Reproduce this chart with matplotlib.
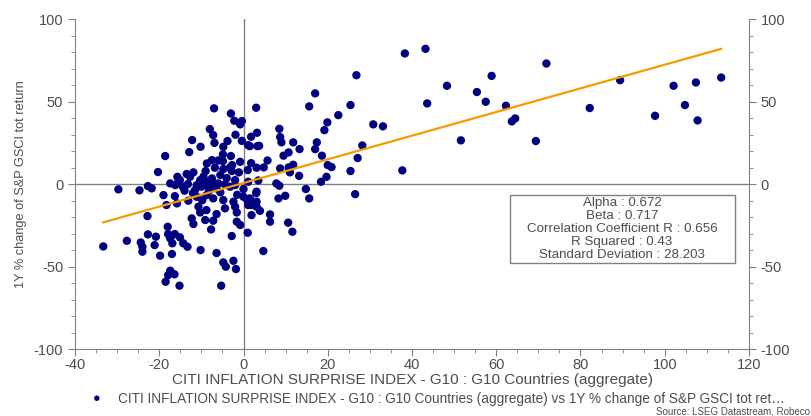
import matplotlib
matplotlib.use("Agg")
import matplotlib.pyplot as plt
from matplotlib.ticker import MultipleLocator
from matplotlib.patches import Rectangle

plt.rcParams['font.family'] = ['Liberation Sans', 'DejaVu Sans']
plt.rcParams['axes.unicode_minus'] = False

# Citi inflation surprise index (x) vs 1Y % change of S&P GSCI total return (y)
surprise = [
    38.3, 43.2, 71.9, 26.8, 58.9, 48.3, 89.4, 102.1, 107.4, 113.4, 55.4, 57.5, 43.6, 62.3,
    17.0, 15.6, 25.4, 3.0, 82.2, 104.8, 97.7, 107.8, 64.5, 63.7, 22.5, 19.9, 19.2, 30.8,
    33.1, 8.5, 51.6, 69.4, 28.2, 27.1, 37.7, 25.4, 26.5, 17.4, 17.0, 11.8, 13.3, 10.7,
    9.5, 18.6, 5.7, 4.8, 8.7, 9.0, 20.0, 20.9, 11.8, 10.7, 8.7, 13.2, 19.7, 18.4,
    14.8, 7.8, 8.5, 3.0, 9.9, 15.6, 8.3, 3.5, 1.8, 3.2, 1.8, 3.3, 1.5, 11.0,
    10.6, 11.6, 3.1, 1.1, 3.7,
    -7.0, -3.0, -2.2, -0.4, -0.8, -8.0, -7.2, -1.9, -12.2, -6.9, -3.8, -4.8, -0.4, -10.2,
    -12.9, -18.6, -4.9, -7.5, -2.7, -0.8, -4.9, -20.3, -15.7, -11.9, -13.5, -9.0, -6.8, -4.8,
    -3.2, -1.1, 1.0, -4.0, -2.0, -29.7, -24.7, -22.7, -21.8, -15.4, -17.4, -16.2, -14.4, -13.2,
    -10.3, -9.5, -8.8, -10.0, -8.4, -7.2, -6.0, -6.4, -8.2, -11.1, -11.5, -7.5, -4.4, -3.2,
    -2.0, 0.0, 1.1, 3.1,
    -19.0, -18.3, -16.3, -15.8, -13.1, -11.1, -8.8, -7.2, -4.8, -2.4, 1.5, 3.1,
    -10.7, -10.3, -8.8, -6.4, -4.4, -2.0, -1.6, 1.1, 3.1, 3.9, 1.9,
    -22.8, -12.3, -11.9, -9.1, -7.2, -7.7, -1.6, -0.8, 1.0, -2.8, -18.0,
    -22.7, -20.8, -24.4, -24.0, -24.0, -27.7, -21.1, -33.3,
    -17.9, -16.3, -17.4, -15.1, -16.9, -14.3, -13.3, -17.0, -19.8,
    -10.2, -6.4, 4.7, -4.8, -4.2, -2.4, -1.8,
    -17.4, -17.9, -16.4, -18.5, -15.2, -5.3,
    0.0, 0.9, 1.9, 6.3, 6.3,
    -6.0, -3.0, -8.7, -2.8, -12.7, -15.1,
    -9.5, -5.5, -12.0, -5.5, -1.5, -14.0, -9.8,
]
gsci_return = [
    79.2, 82.0, 73.1, 66.0, 65.6, 59.6, 63.0, 59.6, 61.6, 64.6, 55.8, 49.9, 48.9, 47.5,
    55.0, 47.1, 47.9, 46.3, 46.1, 47.9, 41.4, 38.6, 39.8, 38.0, 41.8, 37.4, 32.7, 36.2,
    35.0, 33.5, 26.5, 26.1, 23.4, 15.8, 8.3, 7.9, -6.1, 25.3, 21.2, 25.3, 21.2, 19.2,
    17.2, 17.2, 14.3, 10.1, 28.5, 25.3, 11.5, 10.3, 11.7, 10.1, 9.5, 5.0, 4.4, 1.4,
    -3.0, 0.4, -1.0, -5.5, -7.1, -8.7, -8.7, 2.2, 12.7, 31.1, 28.7, 23.0, 23.0, 7.1,
    -23.4, -28.9, 9.9, 23.6, 23.2,
    45.9, 42.8, 38.4, 38.2, 36.2, 33.3, 29.7, 29.9, 26.7, 25.0, 26.1, 22.6, 26.2, 22.6,
    19.4, 17.0, 18.0, 14.5, 11.5, 13.5, 13.9, 7.3, 4.4, 7.1, 6.1, 7.9, 9.9, 9.1,
    10.1, 7.1, 8.5, 3.6, 2.4, -3.2, -3.8, -1.2, -2.6, 1.8, 0.4, -0.6, -1.6, 0.0,
    2.4, 0.4, 1.4, -1.6, -1.6, -0.6, 0.4, -2.6, -4.2, -0.6, -3.6, 3.4, -0.2, -1.6,
    -0.6, -3.0, 1.4, -4.6,
    -6.7, -12.7, -7.3, -11.7, -10.1, -7.7, -6.7, -8.7, -9.7, -10.7, -8.7, -10.7,
    -13.7, -17.2, -15.8, -18.2, -14.7, -13.7, -17.2, -12.7, -13.7, -16.2, -18.8,
    -19.4, -20.8, -24.2, -21.8, -22.2, -27.5, -22.8, -24.8, -29.5, -31.5, -25.9,
    -30.5, -31.9, -35.4, -38.0, -41.0, -34.4, -37.0, -37.8,
    -30.3, -30.3, -32.9, -32.3, -35.9, -35.9, -38.0, -42.4, -43.4,
    -40.0, -41.8, -40.6, -47.5, -50.1, -46.5, -51.5,
    -52.5, -55.2, -54.7, -59.2, -61.6, -61.6,
    -7.7, -9.7, -12.7, -18.4, -22.8,
    14.3, 17.0, 12.5, 7.9, 4.4, 2.4,
    4.5, 5.5, -5.5, -5.0, -6.5, -4.0, -9.8,
]

alpha = 0.672
beta = 0.717
stats_lines = [
    "Alpha : 0.672",
    "Beta : 0.717",
    "Correlation Coefficient R : 0.656",
    "R Squared : 0.43",
    "Standard Deviation : 28.203",
]
x_ticks = [-40, -20, 0, 20, 40, 60, 80, 100, 120]
y_ticks = [-100, -50, 0, 50, 100]

fig = plt.figure(figsize=(8.12, 4.16), dpi=100)
ax = fig.add_axes([0.0924, 0.161, 0.830, 0.793])

gray = '#808080'
text_col = '#4d4d4d'

ax.axhline(0, color=gray, lw=1, zorder=1)
ax.axvline(0, color=gray, lw=1, zorder=1)

ax.scatter(surprise, gsci_return, s=36, color='#000080', edgecolors='none', zorder=3)

x_min, x_max = min(surprise), max(surprise)
ax.plot([x_min, x_max], [alpha + beta * x_min, alpha + beta * x_max],
        color='#f59a00', lw=1.6, zorder=4)

ax.set_xlim(-40, 120)
ax.set_ylim(-100, 100)
ax.set_xticks(x_ticks)
ax.set_yticks(y_ticks)
ax.xaxis.set_minor_locator(MultipleLocator(5))
ax.yaxis.set_minor_locator(MultipleLocator(10))
ax.yaxis.set_ticks_position('both')
ax.tick_params(axis='both', which='both', direction='out', colors=gray,
               labelcolor=text_col, labelsize=10.5, labelright=True)
ax.tick_params(which='major', length=5)
ax.tick_params(which='minor', length=3)
ax.tick_params(axis='x', pad=1.5)

ax.spines['top'].set_visible(False)
for side in ['left', 'right', 'bottom']:
    ax.spines[side].set_color(gray)

ax.set_xlabel("CITI INFLATION SURPRISE INDEX - G10 : G10 Countries (aggregate)",
              fontsize=11, color=text_col, labelpad=0.5)
ax.set_ylabel("1Y % change of S&P GSCI tot return", fontsize=9.2, color=text_col, labelpad=5,
              family=['Liberation Sans Narrow', 'Liberation Sans', 'DejaVu Sans'])

# statistics box
ax.add_patch(Rectangle((0.6454, 0.2606), 0.3336, 0.2061, transform=ax.transAxes,
                       facecolor='white', edgecolor=gray, lw=1, zorder=5))
for i, line in enumerate(stats_lines):
    ax.text(0.8116, 0.4424 - i * 0.0394, line, transform=ax.transAxes,
            ha='center', va='center', fontsize=9.6, color=text_col, zorder=6)

# legend row
fig.text(97 / 812, 1 - 399 / 416, "\u25cf", color='#000080', fontsize=9,
         ha='center', va='center')
fig.text(118 / 812, 1 - 399 / 416,
         "CITI INFLATION SURPRISE INDEX - G10 : G10 Countries (aggregate) vs 1Y % change of S&P GSCI tot ret\u2026",
         fontsize=9.8, color=text_col, ha='left', va='center')
fig.text(810 / 812, 0, "Source: LSEG Datastream, Robeco",
         fontsize=7, color=text_col, ha='right', va='bottom')

fig.savefig("out.png", dpi=100)
